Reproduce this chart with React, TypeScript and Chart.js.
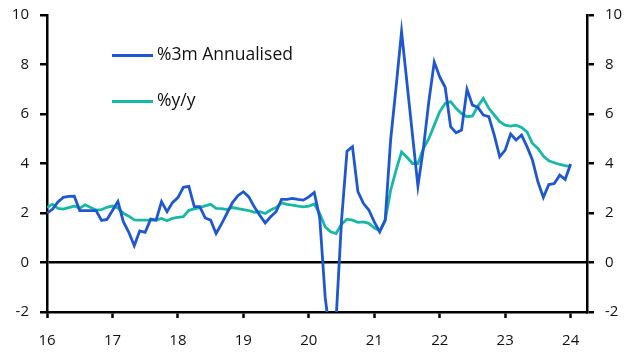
import React, { useEffect, useRef } from "react";
import { Chart, registerables } from "chart.js";

Chart.register(...registerables);

// Monthly data, Jan 2016 .. Jan 2024 (x axis in two-digit years)
const startYear = 16;
const xTickYears = [16, 17, 18, 19, 20, 21, 22, 23, 24];
const yTickValues = [-2, 0, 2, 4, 6, 8, 10];
const seriesLabels = ["%3m Annualised", "%y/y"];

const threeMonthAnnualised = [
  // 2016
  2.0, 2.15, 2.45, 2.63, 2.67, 2.68, 2.1, 2.1, 2.1, 2.1, 1.7, 1.74,
  // 2017
  2.1, 2.46, 1.65, 1.22, 0.68, 1.28, 1.22, 1.75, 1.71, 2.46, 2.05, 2.42,
  // 2018
  2.62, 3.04, 3.08, 2.26, 2.26, 1.8, 1.71, 1.17, 1.56, 1.99, 2.42, 2.7,
  // 2019
  2.86, 2.65, 2.25, 1.91, 1.6, 1.85, 2.05, 2.55, 2.55, 2.59, 2.55, 2.52,
  // 2020
  2.65, 2.83, 1.8, -1.4, -3.2, -2.3, 1.7, 4.5, 4.68, 2.86, 2.39, 2.12,
  // 2021
  1.64, 1.24, 1.71, 4.95, 7.1, 9.33, 7.25, 5.17, 3.09, 4.6, 6.5, 8.1,
  // 2022
  7.5, 7.08, 5.49, 5.24, 5.35, 7.0, 6.36, 6.27, 5.96, 5.89, 5.15, 4.27,
  // 2023
  4.54, 5.19, 4.95, 5.15, 4.68, 4.14, 3.26, 2.63, 3.15, 3.19, 3.53, 3.36,
  // 2024
  3.98,
];

const yearOnYear = [
  // 2016
  2.22, 2.36, 2.19, 2.16, 2.22, 2.28, 2.19, 2.33, 2.22, 2.12, 2.14, 2.23,
  // 2017
  2.28, 2.2, 1.99, 1.87, 1.72, 1.71, 1.71, 1.71, 1.71, 1.78, 1.69, 1.78,
  // 2018
  1.82, 1.85, 2.11, 2.17, 2.22, 2.29, 2.35, 2.19, 2.18, 2.14, 2.22, 2.18,
  // 2019
  2.14, 2.1, 2.03, 2.05, 1.98, 2.12, 2.22, 2.41, 2.35, 2.32, 2.28, 2.25,
  // 2020
  2.28, 2.36, 1.98, 1.44, 1.24, 1.17, 1.55, 1.75, 1.71, 1.62, 1.64, 1.58,
  // 2021
  1.4, 1.28, 1.7, 2.92, 3.73, 4.47, 4.25, 4.0, 4.0, 4.6, 5.0, 5.55,
  // 2022
  6.09, 6.43, 6.5, 6.23, 6.02, 5.89, 5.92, 6.32, 6.63, 6.23, 5.96, 5.69,
  // 2023
  5.55, 5.51, 5.55, 5.46, 5.28, 4.81, 4.61, 4.3, 4.11, 4.03, 3.96, 3.91,
  // 2024
  3.87,
];

const BLUE = "#1f57d1";
const TEAL = "#17b8a4";
const FONT = "'Open Sans', 'Noto Sans', sans-serif";

const toPoints = (arr: number[]) =>
  arr.map((v, i) => ({ x: startYear + i / 12, y: v }));

const insideLegend = {
  id: "insideLegend",
  afterDraw(chart: any) {
    const ctx = chart.ctx;
    const rows = [55.5, 101.5];
    chart.data.datasets.forEach((ds: any, i: number) => {
      const y = rows[i];
      ctx.save();
      ctx.strokeStyle = ds.borderColor;
      ctx.lineWidth = 3;
      ctx.beginPath();
      ctx.moveTo(112, y);
      ctx.lineTo(153, y);
      ctx.stroke();
      ctx.fillStyle = "#111";
      ctx.font = `17.5px ${FONT}`;
      ctx.textBaseline = "middle";
      ctx.textAlign = "left";
      ctx.fillText(ds.label, 157, y);
      ctx.restore();
    });
  },
};

export default function App() {
  const canvasRef = useRef<HTMLCanvasElement | null>(null);

  useEffect(() => {
    if (!canvasRef.current) return;
    const yAxisCommon = (position: "left" | "right") => ({
      type: "linear" as const,
      position,
      min: yTickValues[0],
      max: yTickValues[yTickValues.length - 1],
      afterBuildTicks: (scale: any) => {
        scale.ticks = yTickValues.map((v) => ({ value: v }));
      },
      afterFit: (scale: any) => {
        scale.width = position === "left" ? 47 : 43;
        scale.paddingTop = 0;
        scale.paddingBottom = 0;
      },
      ticks: {
        color: "#111",
        font: { family: FONT, size: 15 },
        padding: 11,
      },
      border: { display: true, color: "#000", width: 2.5 },
      grid: {
        drawOnChartArea: position === "left",
        color: (c: any) => (c.tick && c.tick.value === 0 ? "#000" : "rgba(0,0,0,0)"),
        lineWidth: 2.5,
        tickColor: "#000",
        tickWidth: 2.5,
        tickLength: 7,
      },
    });

    const chart = new Chart(canvasRef.current, {
      type: "line",
      data: {
        datasets: [
          {
            label: seriesLabels[0],
            data: toPoints(threeMonthAnnualised),
            borderColor: BLUE,
            backgroundColor: BLUE,
            borderWidth: 2.8,
            pointRadius: 0,
            tension: 0,
          },
          {
            label: seriesLabels[1],
            data: toPoints(yearOnYear),
            borderColor: TEAL,
            backgroundColor: TEAL,
            borderWidth: 2.8,
            pointRadius: 0,
            tension: 0,
          },
        ],
      },
      options: {
        animation: false,
        responsive: false,
        maintainAspectRatio: false,
        layout: { padding: { top: 15, left: 0, right: 0, bottom: 0 } },
        plugins: { legend: { display: false }, tooltip: { enabled: false } },
        scales: {
          x: {
            type: "linear",
            position: "bottom",
            min: startYear,
            max: 24.25,
            afterBuildTicks: (scale: any) => {
              scale.ticks = xTickYears.map((v) => ({ value: v }));
            },
            afterFit: (scale: any) => {
              scale.height = 43;
              scale.paddingLeft = 0;
              scale.paddingRight = 0;
            },
            ticks: {
              color: "#111",
              font: { family: FONT, size: 15 },
              padding: 14,
              maxRotation: 0,
              callback: (v: any) => String(v),
            },
            border: { display: true, color: "#000", width: 2.5 },
            grid: {
              drawOnChartArea: false,
              tickColor: "#000",
              tickWidth: 2.5,
              tickLength: 6,
            },
          },
          y: yAxisCommon("left"),
          y2: yAxisCommon("right"),
        },
      },
      plugins: [insideLegend],
    });
    return () => chart.destroy();
  }, []);

  return (
    <div style={{ position: "fixed", left: 0, top: 0, width: 630, height: 355, background: "#fff" }}>
      <canvas ref={canvasRef} width={630} height={355} style={{ width: 630, height: 355 }} />
    </div>
  );
}
